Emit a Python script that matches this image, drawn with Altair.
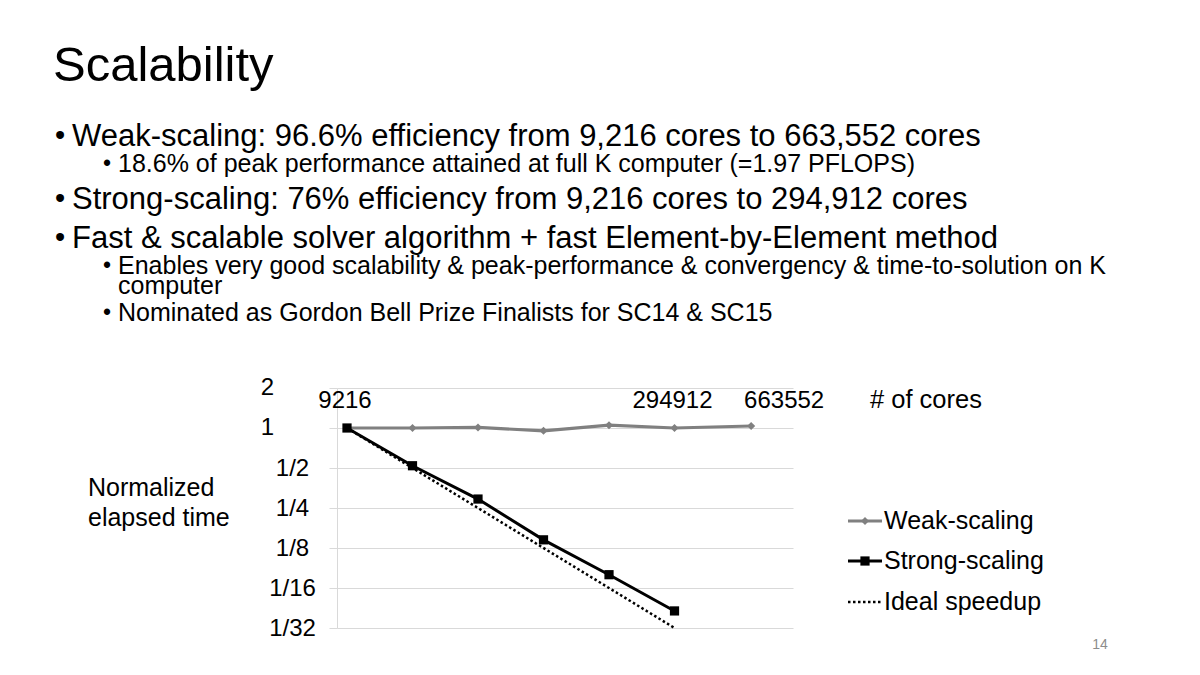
import altair as alt
import pandas as pd

FONT = "Liberation Sans"

# ---- data ----
cores = [9216, 18432, 36864, 73728, 147456, 294912, 663552]
weak_time = [1.0, 1.0, 1.01, 0.952, 1.05, 1.0, 1.035]
strong_cores = [9216, 18432, 36864, 73728, 147456, 294912]
strong_time = [1.0, 0.52, 0.292, 0.144, 0.0787, 0.042]
ideal_cores = [9216, 294912]
ideal_time = [1.0, 0.03125]
y_ticks = [2, 1, 0.5, 0.25, 0.125, 0.0625, 0.03125]
y_whole_ticks = [2, 1]
y_whole_labels = ["2", "1"]
x_label_values = [9216, 294912]
x_label_text = ["9216", "294912"]
x_label_last_value = [663552]
x_label_last_text = ["663552"]
legend_names = ["Weak-scaling", "Strong-scaling", "Ideal speedup"]

title_text = "Scalability"
bullets = [
    "Weak-scaling: 96.6% efficiency from 9,216 cores to 663,552 cores",
    "Strong-scaling: 76% efficiency from 9,216 cores to 294,912 cores",
    "Fast & scalable solver algorithm + fast Element-by-Element method",
]
sub_bullets = [
    "18.6% of peak performance attained at full K computer (=1.97 PFLOPS)",
    "Enables very good scalability & peak-performance & convergency & time-to-solution on K",
    "computer",
    "Nominated as Gordon Bell Prize Finalists for SC14 & SC15",
]
y_title_lines = ["Normalized", "elapsed time"]
x_title = "# of cores"
page_no = "14"

weak_df = pd.DataFrame({"cores": cores, "time": weak_time})
strong_df = pd.DataFrame({"cores": strong_cores, "time": strong_time})
ideal_df = pd.DataFrame({"cores": ideal_cores, "time": ideal_time})
xl_df = pd.DataFrame({"cores": x_label_values, "label": x_label_text})
xl2_df = pd.DataFrame({"cores": x_label_last_value, "label": x_label_last_text})
yl_df = pd.DataFrame({"time": y_whole_ticks, "label": y_whole_labels})
one = pd.DataFrame({"a": [0]})

xs = alt.Scale(type="log", domain=[8291, 1033300], nice=False)
ys = alt.Scale(type="log", base=2, domain=[0.03125, 2], nice=False)

y_axis = alt.Axis(
    values=y_ticks,
    labelExpr="datum.value >= 0.75 ? '' : '1/' + round(1/datum.value)",
    grid=True, gridColor="#d9d9d9", gridWidth=1,
    domainColor="#d9d9d9", tickColor="#d9d9d9", tickSize=8,
    labelAlign="center", labelBaseline="middle", labelPadding=37,
    labelFontSize=24, labelColor="black", labelFont=FONT, title=None,
)
X = alt.X("cores:Q", scale=xs, axis=None)
Y = alt.Y("time:Q", scale=ys, axis=y_axis)

ideal = alt.Chart(ideal_df).mark_line(
    color="black", strokeWidth=2.5, strokeDash=[2.5, 2.5]
).encode(x=X, y=Y)
weak_line = alt.Chart(weak_df).mark_line(color="#808080", strokeWidth=3.2).encode(x=X, y=Y)
weak_pts = alt.Chart(weak_df).mark_point(
    shape="diamond", filled=True, color="#808080", size=65, opacity=1
).encode(x=X, y=Y)
strong_line = alt.Chart(strong_df).mark_line(color="black", strokeWidth=3).encode(x=X, y=Y)
strong_pts = alt.Chart(strong_df).mark_point(
    shape="square", filled=True, color="black", size=85, opacity=1
).encode(x=X, y=Y)

xlab = alt.Chart(xl_df).mark_text(
    fontSize=24, font=FONT, color="black", baseline="middle", dx=-2
).encode(x=X, y=alt.value(12.5), text="label:N")
xlab2 = alt.Chart(xl2_df).mark_text(
    fontSize=24, font=FONT, color="black", baseline="middle", dx=33
).encode(x=X, y=alt.value(12.5), text="label:N")

OX, OY = 337, 388
ylab = alt.Chart(yl_df).mark_text(
    fontSize=24, font=FONT, color="black", baseline="middle", align="center"
).encode(x=alt.value(267.5 - OX), y=Y, text="label:N")


def txt(s, x, y, size, color="black", align="left", baseline="alphabetic"):
    return alt.Chart(one).mark_text(
        text=s, fontSize=size, font=FONT, color=color, align=align, baseline=baseline
    ).encode(x=alt.value(x), y=alt.value(y))


layers = [ideal, weak_line, weak_pts, strong_line, strong_pts, xlab, xlab2, ylab]

# slide texts
layers.append(txt(title_text, 53 - OX, 81 - OY, 49))
main_y = [146, 209, 248]
for s, by in zip(bullets, main_y):
    layers.append(txt("\u2022", 55 - OX, by - 1 - OY, 29))
    layers.append(txt(s, 72 - OX, by - OY, 31))
sub_pos = [(172, True), (274, True), (294, False), (321, True)]
for s, (by, has_bullet) in zip(sub_bullets, sub_pos):
    if has_bullet:
        layers.append(txt("\u2022", 103 - OX, by - 1 - OY, 23))
    layers.append(txt(s, 118 - OX, by - OY, 25))

# chart annotations
layers.append(txt(y_title_lines[0], 88 - OX, 488 - OY, 25, baseline="middle"))
layers.append(txt(y_title_lines[1], 88 - OX, 518 - OY, 25, baseline="middle"))
layers.append(txt(x_title, 870 - OX, 400 - OY, 25.5, baseline="middle"))
layers.append(txt(page_no, 1100 - OX, 645 - OY, 14, color="#8c8c8c", align="center", baseline="middle"))

# legend
leg_y = [521 - OY, 561 - OY, 602 - OY]
lx0, lx1, lxm, ltx = 848 - OX, 882 - OX, 865 - OX, 884 - OX
layers.append(alt.Chart(one).mark_rule(color="#808080", strokeWidth=3.2).encode(
    x=alt.value(lx0), x2=alt.value(lx1), y=alt.value(leg_y[0])))
layers.append(alt.Chart(one).mark_point(shape="diamond", filled=True, color="#808080", size=65, opacity=1).encode(
    x=alt.value(lxm), y=alt.value(leg_y[0])))
layers.append(alt.Chart(one).mark_rule(color="black", strokeWidth=3).encode(
    x=alt.value(lx0), x2=alt.value(lx1), y=alt.value(leg_y[1])))
layers.append(alt.Chart(one).mark_point(shape="square", filled=True, color="black", size=85, opacity=1).encode(
    x=alt.value(lxm), y=alt.value(leg_y[1])))
layers.append(alt.Chart(one).mark_rule(color="black", strokeWidth=2.5, strokeDash=[2.5, 2.5]).encode(
    x=alt.value(lx0), x2=alt.value(lx1), y=alt.value(leg_y[2])))
for name, ly in zip(legend_names, leg_y):
    layers.append(txt(name, ltx, ly, 25, baseline="middle"))

chart = alt.layer(*layers).properties(
    width=456, height=240,
    padding={"left": OX - 8, "top": OY - 8, "right": 1184 - (OX - 8) - 456, "bottom": 659 - (OY - 8) - 240},
    autosize=alt.AutoSizeParams(type="none"),
    background="white",
).configure_view(stroke=None)

chart.save("out.html", embed_options={"renderer": "svg", "actions": False})
